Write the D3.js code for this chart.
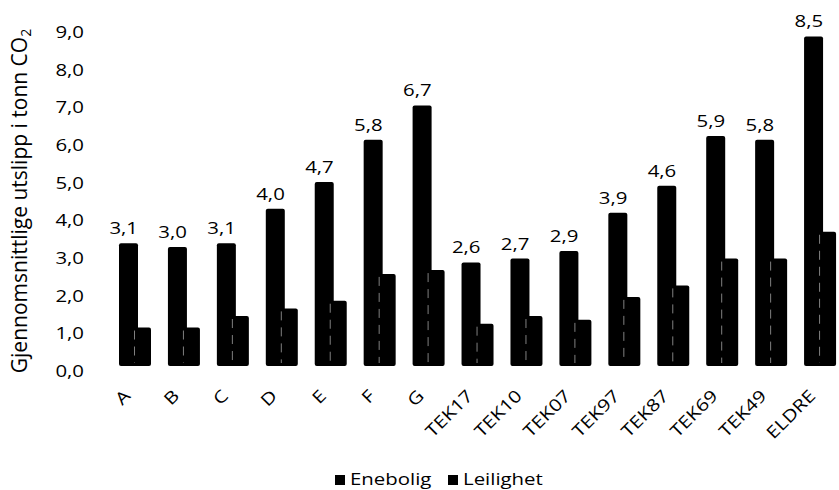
<!DOCTYPE html>
<html lang="no">
  <head>
    <meta charset="utf-8">
    <title>Utslipp per bolig</title>
    <script src="https://d3js.org/d3.v7.min.js"></script>
    <style>
      html, body {
        margin: 0;
        padding: 0;
        background: #fff;
      }
      text {
        font-family: "Open Sans", sans-serif;
        fill: #000;
      }
    </style>
  </head>
  <body>
    <svg id="chart" width="839" height="490"></svg>

    <script>
      // data
      var categories = ['A', 'B', 'C', 'D', 'E', 'F', 'G', 'TEK17', 'TEK10', 'TEK07', 'TEK97', 'TEK87', 'TEK69', 'TEK49', 'ELDRE'];
      var series = ['Enebolig', 'Leilighet'];
      var enebolig = [3.1, 3.0, 3.1, 4.0, 4.7, 5.8, 6.7, 2.6, 2.7, 2.9, 3.9, 4.6, 5.9, 5.8, 8.5];
      var leilighet = [0.9, 0.9, 1.2, 1.4, 1.6, 2.3, 2.4, 1.0, 1.2, 1.1, 1.7, 2.0, 2.7, 2.7, 3.4];
      var yTicks = [0, 1, 2, 3, 4, 5, 6, 7, 8, 9];

      var fmt = d3.format('.1f');
      var comma = function(v) { return fmt(v).replace('.', ','); };
      var STRETCH = 1.2;   // text in the scan is wide

      var svg = d3.select('#chart');

      var x = d3.scaleBand().domain(categories).range([110, 844]).padding(0);
      var x1 = d3.scalePoint().domain(series).range([9, 23]);
      var y = d3.scaleLinear().domain([0, 9]).range([371, 32]);     // tick positions
      var yBar = d3.scaleLinear().domain([0, 9]).range([362, 17.3]); // front face of 3D bars
      var BAR_W = {Enebolig: 19, Leilighet: 18};
      var BASE_EXTRA = 4;

      // y tick labels
      svg.append('g').selectAll('text')
        .data(yTicks)
        .enter().append('text')
          .attr('text-anchor', 'end')
          .attr('dy', '0.35em')
          .attr('font-size', 17)
          .attr('transform', function(d) { return 'translate(84,' + y(d) + ') scale(' + STRETCH + ',1)'; })
          .text(comma);

      // y axis title
      var title = svg.append('text')
        .attr('text-anchor', 'middle')
        .attr('font-size', 21)
        .attr('transform', 'translate(27,201) rotate(-90)');
      title.append('tspan').text('Gjennomsnittlige utslipp i tonn CO');
      title.append('tspan').attr('font-size', 14).attr('dy', '0.3em').text('2');

      var rows = categories.map(function(c, i) {
        return {cat: c, Enebolig: enebolig[i], Leilighet: leilighet[i]};
      });

      // bars: Enebolig behind, Leilighet in front and to the right
      series.forEach(function(s) {
        var g = svg.append('g').attr('class', 'series-' + s);
        g.selectAll('rect')
          .data(rows)
          .enter().append('rect')
            .attr('x', function(d) { return x(d.cat) + x1(s); })
            .attr('y', function(d) { return yBar(d[s]); })
            .attr('width', BAR_W[s])
            .attr('height', function(d) { return yBar(0) - yBar(d[s]) + BASE_EXTRA; })
            .attr('rx', 2)
            .attr('fill', '#000');
        if (s === 'Leilighet') {
          // faint light edge where the front bar meets the back one
          g.selectAll('line')
            .data(rows)
            .enter().append('line')
              .attr('x1', function(d) { return x(d.cat) + x1(s) + 1.5; })
              .attr('x2', function(d) { return x(d.cat) + x1(s) + 1.5; })
              .attr('y1', function(d) { return yBar(d[s]) + 3; })
              .attr('y2', yBar(0) + 1)
              .attr('stroke', '#fff')
              .attr('stroke-width', 1)
              .attr('stroke-dasharray', '9,7')
              .attr('opacity', 0.5);
        }
      });

      // value labels over Enebolig
      svg.append('g').selectAll('text')
        .data(rows)
        .enter().append('text')
          .attr('text-anchor', 'middle')
          .attr('font-size', 17)
          .attr('transform', function(d) {
            return 'translate(' + (x(d.cat) + x.bandwidth() * 0.28) + ',' + (yBar(d.Enebolig) - 9) + ') scale(' + STRETCH + ',1)';
          })
          .text(function(d) { return comma(d.Enebolig); });

      // category labels
      svg.append('g').selectAll('text')
        .data(categories)
        .enter().append('text')
          .attr('text-anchor', 'end')
          .attr('font-size', 17)
          .attr('transform', function(d) {
            return 'translate(' + (x(d) + x.bandwidth() / 2 - 3) + ',397) rotate(-45) scale(' + STRETCH + ',1)';
          })
          .text(function(d) { return d; });

      // legend
      var legendX = {Enebolig: 335, Leilighet: 448};
      var legend = svg.append('g').selectAll('g')
        .data(series)
        .enter().append('g')
          .attr('transform', function(d) { return 'translate(' + legendX[d] + ',485)'; });
      legend.append('rect')
        .attr('x', 0)
        .attr('y', -10)
        .attr('width', 10)
        .attr('height', 10)
        .attr('fill', '#000');
      legend.append('text')
        .attr('font-size', 17)
        .attr('transform', 'translate(15,0) scale(' + STRETCH + ',1)')
        .text(function(d) { return d; });
    </script>
  </body>
</html>
